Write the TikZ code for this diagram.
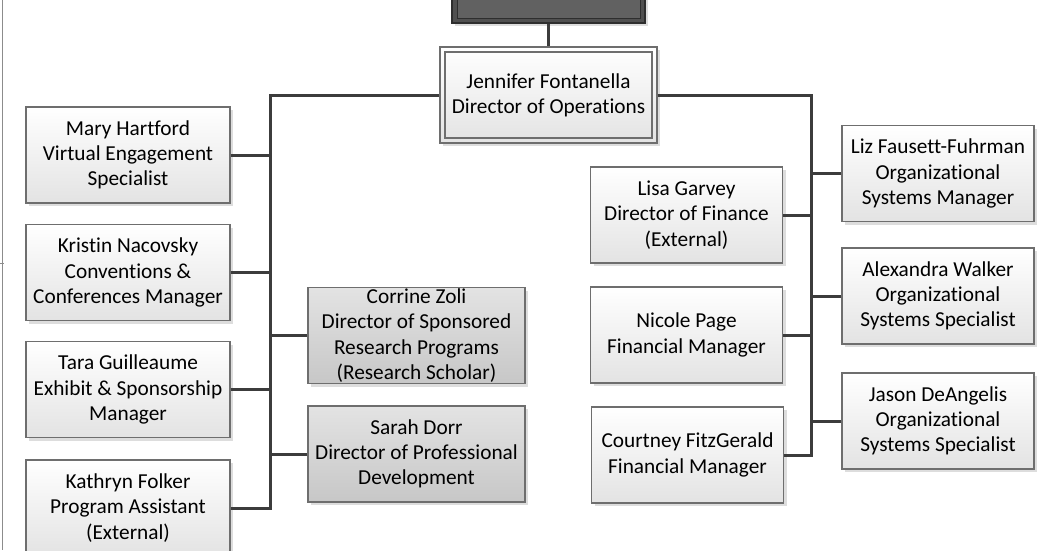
\documentclass[tikz,border=0pt]{standalone}
\usepackage{fontspec}
\setmainfont[Ligatures=CommonOff]{Carlito}
\usetikzlibrary{shadows}
\definecolor{conn}{HTML}{3C3C3C}
\definecolor{bord}{HTML}{6E6E6E}
\definecolor{topfill}{HTML}{505050}
\definecolor{topbord}{HTML}{2E2E2E}
\tikzset{
  cardfont/.style={font=\fontsize{21.3}{25.3}\selectfont},
  card/.style={draw=bord, line width=1.2pt, rectangle, minimum width=204pt, minimum height=96pt,
    inner sep=0pt, align=center, top color=white, bottom color=black!11,
    drop shadow={shadow xshift=3pt, shadow yshift=-3pt, fill=black!22, opacity=0.6},
    cardfont},
  darkcard/.style={card, top color=black!11, bottom color=black!22, minimum width=217pt},
  rcard/.style={card, minimum width=192pt},
  link/.style={draw=conn, line width=3pt},
  edge/.style={draw=black!45, line width=1pt},
}
\begin{document}
\begin{tikzpicture}[x=1pt,y=-1pt]
\useasboundingbox (0,0) rectangle (1057,550);
\clip (0,0) rectangle (1057,550);
% left edge fragment
\coordinate (e1) at (2.5,0);
\coordinate (e2) at (2.5,550);
\coordinate (t1) at (0,263);
\coordinate (t2) at (4,263);
\draw[edge] (e1) -- (e2);
\draw[edge] (t1) -- (t2);

% top box
\node[draw=topbord, line width=1.5pt, fill=topfill, minimum width=193pt, minimum height=36pt,
  drop shadow={shadow xshift=3pt, shadow yshift=-3pt, fill=black!22, opacity=0.6}] (ceo) at (548.5,5) {};
\node[draw=topbord, line width=0.8pt, fill=topfill!90!white, minimum width=183pt, minimum height=26pt] (ceoin) at (548.5,5) {};

% Jennifer
\node[card, minimum width=217pt, minimum height=96pt] (jen) at (548.5,95) {};
\node[draw=bord, line width=1.2pt, minimum width=207pt, minimum height=86pt, align=center,
  cardfont] (jenin) at (548.5,95) {Jennifer Fontanella\\Director of Operations};

% left column
\node[card] (mary) at (128,155) {Mary Hartford\\Virtual Engagement\\Specialist};
\node[card] (kristin) at (128,272.5) {Kristin Nacovsky\\Conventions \&\\Conferences Manager};
\node[card] (tara) at (128,389.5) {Tara Guilleaume\\Exhibit \& Sponsorship\\Manager};
\node[card] (kathryn) at (128,508) {Kathryn Folker\\Program Assistant\\(External)};
\node[darkcard] (corrine) at (416.5,335.5) {Corrine Zoli\\Director of Sponsored\\Research Programs\\(Research Scholar)};
\node[darkcard] (sarah) at (416.5,454) {Sarah Dorr\\Director of Professional\\Development};

% right side
\node[rcard] (lisa) at (686.5,215) {Lisa Garvey\\Director of Finance\\(External)};
\node[rcard] (nicole) at (686.5,335) {Nicole Page\\Financial Manager};
\node[rcard] (courtney) at (687.5,455) {Courtney FitzGerald\\Financial Manager};
\node[rcard] (liz) at (938,173.5) {Liz Fausett-Fuhrman\\Organizational\\Systems Manager};
\node[rcard] (alex) at (938,296) {Alexandra Walker\\Organizational\\Systems Specialist};
\node[rcard] (jason) at (938,421) {Jason DeAngelis\\Organizational\\Systems Specialist};

% connectors
\coordinate (L) at (270,95);
\coordinate (R) at (811,95);
\draw[link] (ceo.south) -- (jen.north);
\draw[link] (jen.west) -- (L) |- (kathryn.east);
\draw[link] (mary.east) -- (mary.east -| L);
\draw[link] (kristin.east) -- (kristin.east -| L);
\draw[link] (tara.east) -- (tara.east -| L);
\draw[link] (corrine.west) -- (corrine.west -| L);
\draw[link] (sarah.west) -- (sarah.west -| L);
\draw[link] (jen.east) -- (R) |- (courtney.east);
\draw[link] (lisa.east) -- (lisa.east -| R);
\draw[link] (nicole.east) -- (nicole.east -| R);
\draw[link] (liz.west) -- (liz.west -| R);
\draw[link] (alex.west) -- (alex.west -| R);
\draw[link] (jason.west) -- (jason.west -| R);
\end{tikzpicture}
\end{document}
